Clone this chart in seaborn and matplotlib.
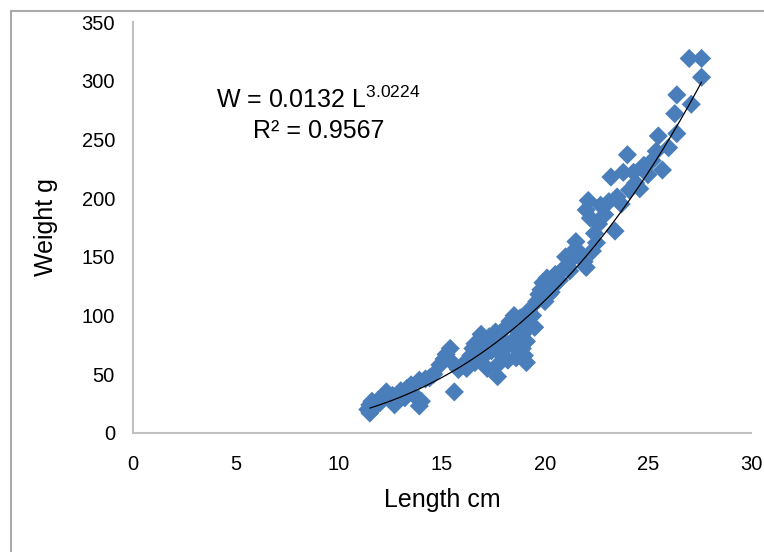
import numpy as np
import pandas as pd
import matplotlib
matplotlib.use("Agg")
import matplotlib.pyplot as plt
import seaborn as sns
from matplotlib.lines import Line2D

# Length-weight data
length = [
    11.4, 11.5, 11.5, 11.6, 11.8, 11.9, 12.0, 12.2, 12.3, 12.5,
    12.6, 12.7, 12.9, 13.0, 13.2, 13.3, 13.5, 13.6, 13.8, 13.9,
    13.9, 14.0, 14.2, 14.4, 14.6, 14.9, 15.1, 15.2, 15.4, 15.5,
    15.6, 15.8, 16.0, 16.2, 16.3, 16.5, 16.6, 16.8, 16.9, 17.0,
    17.1, 17.2, 17.3, 17.5, 17.6, 17.7, 17.7, 17.8, 17.9, 18.0,
    18.1, 18.2, 18.3, 18.4, 18.5, 18.6, 18.6, 18.7, 18.8, 18.9,
    19.0, 19.1, 19.1, 19.2, 19.3, 19.4, 19.5, 19.6, 19.7, 19.8,
    19.9, 20.0, 20.1, 20.2, 20.4, 20.5, 20.7, 20.9, 21.0, 21.1,
    21.3, 21.5, 21.5, 21.7, 21.9, 22.0, 22.0, 22.1, 22.2, 22.3,
    22.5, 22.6, 22.7, 22.9, 23.1, 23.2, 23.4, 23.5, 23.7, 23.8,
    24.0, 24.1, 24.3, 24.4, 24.6, 24.8, 25.0, 25.2, 25.4, 25.5,
    25.7, 26.0, 26.3, 26.4, 26.4, 27.0, 27.1, 27.6, 27.6,
    16.4, 16.6, 17.4, 18.2, 18.9, 20.3, 21.2, 22.4, 12.1, 13.1,
]
weight = [
    20, 17, 24, 27, 23, 28, 26, 30, 35, 28,
    32, 24, 33, 36, 30, 38, 41, 33, 30, 23,
    45, 27, 46, 47, 50, 58, 63, 67, 72, 60,
    35, 54, 58, 55, 62, 72, 76, 70, 84, 65,
    78, 55, 82, 75, 86, 48, 58, 68, 80, 72,
    90, 62, 95, 78, 100, 64, 88, 70, 98, 84,
    66, 60, 78, 104, 92, 100, 90, 112, 118, 122,
    128, 112, 132, 118, 125, 135, 130, 140, 150, 142,
    148, 157, 163, 152, 146, 141, 190, 198, 183, 155,
    162, 178, 194, 186, 197, 218, 172, 201, 195, 222,
    237, 207, 222, 213, 208, 228, 220, 232, 240, 253,
    224, 243, 272, 288, 255, 319, 280, 319, 303,
    66, 60, 70, 75, 72, 120, 138, 170, 29, 31,
]

# Power trendline coefficients shown on the chart
a_coef = 0.0132
b_coef = 3.0224

x_ticks = [0, 5, 10, 15, 20, 25, 30]
y_ticks = [0, 50, 100, 150, 200, 250, 300, 350]

df = pd.DataFrame({"Length": length, "Weight": weight})

sns.set_style("white")
plt.rcParams["font.family"] = ["Liberation Sans", "DejaVu Sans"]
plt.rcParams["mathtext.fontset"] = "custom"
plt.rcParams["mathtext.rm"] = "Liberation Sans"
plt.rcParams["mathtext.it"] = "Liberation Sans"
plt.rcParams["text.color"] = "black"

fig = plt.figure(figsize=(7.64, 5.52), dpi=100)
ax = fig.add_axes([0.174, 0.2156, 0.809, 0.7444])

sns.scatterplot(data=df, x="Length", y="Weight", marker="D", s=95,
                color="#4A7EBB", edgecolor="none", linewidth=0, ax=ax)

# trendline
xl = np.linspace(11.5, max(length), 200)
ax.plot(xl, a_coef * xl ** b_coef, color="black", linewidth=0.9)

ax.set_xlim(0, 30)
ax.set_ylim(0, 350)
ax.set_xticks(x_ticks)
ax.set_yticks(y_ticks)
ax.tick_params(axis="both", labelsize=14.5, direction="out", length=7,
               width=1.5, color="#c0c0c0", labelcolor="black")
ax.tick_params(axis="x", pad=9)
ax.tick_params(axis="y", pad=6)
for side in ["top", "right"]:
    ax.spines[side].set_visible(False)
for side in ["left", "bottom"]:
    ax.spines[side].set_color("#c0c0c0")
    ax.spines[side].set_linewidth(1.5)

ax.set_xlabel("Length cm", fontsize=18, labelpad=10, color="black")
ax.set_ylabel("Weight g", fontsize=18, labelpad=17, color="black")

ax.text(0.30, 0.81, r"W = 0.0132 L$^{\mathrm{3.0224}}$", transform=ax.transAxes,
        fontsize=18, ha="center", va="center", color="black")
ax.text(0.30, 0.735, "R² = 0.9567", transform=ax.transAxes,
        fontsize=18, ha="center", va="center", color="black")

# outer chart frame
fig.add_artist(Line2D([11 / 764, 11 / 764], [0, 1 - 11 / 552],
                      transform=fig.transFigure, color="#aaaaaa", linewidth=1.5))
fig.add_artist(Line2D([11 / 764, 1], [1 - 11 / 552, 1 - 11 / 552],
                      transform=fig.transFigure, color="#aaaaaa", linewidth=1.5))

fig.savefig("out.png", dpi=100)
